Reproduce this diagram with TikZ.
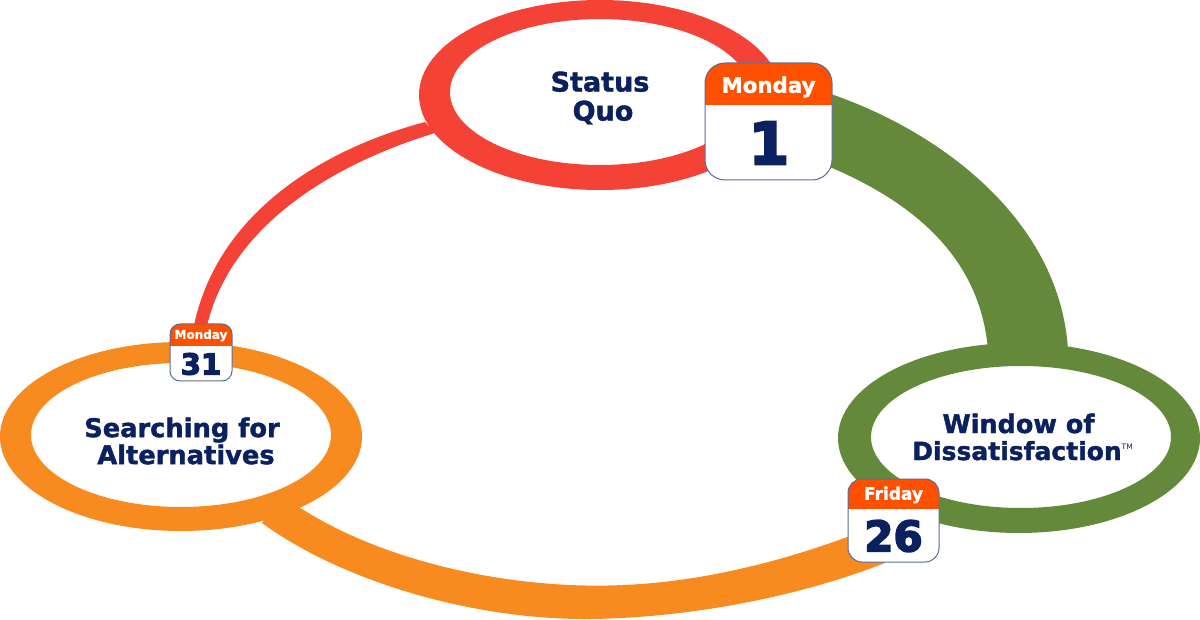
\documentclass[tikz,border=0pt]{standalone}
\usepackage{fontspec}
\setmainfont{DejaVu Sans}
\newfontfamily\heavyfont[BoldFeatures={FakeBold=4}]{DejaVu Sans}
\newfontfamily\labelfont[BoldFeatures={FakeBold=1.5}]{DejaVu Sans}
\definecolor{redring}{HTML}{F44336}
\definecolor{greenring}{HTML}{64893A}
\definecolor{orangering}{HTML}{F88B20}
\definecolor{calhead}{HTML}{FF5000}
\definecolor{navy}{HTML}{0B215F}
\definecolor{calline}{HTML}{5A6A9A}
\tikzset{
  phase/.style={align=center,text=navy,inner sep=0pt},
  calday/.style={text=white,inner sep=0pt},
  calnum/.style={text=navy,inner sep=0pt},
}
% #1 left, #2 top, #3 right, #4 bottom, #5 header bottom, #6 radius
\newcommand{\calbox}[6]{%
  \fill[white,rounded corners=#6pt] (#1,#2) rectangle (#3,#4);
  \begin{scope}
    \clip[rounded corners=#6pt] (#1,#2) rectangle (#3,#4);
    \fill[calhead] (#1,#2) rectangle (#3,#5);
  \end{scope}
  \draw[calline,line width=1pt,rounded corners=#6pt] (#1,#2) rectangle (#3,#4);
}
\begin{document}
\begin{tikzpicture}[x=1pt,y=-1pt]
\useasboundingbox (0,0) rectangle (1200,620);
\fill[white] (0,0) rectangle (1200,620);
% connectors
\fill[redring] (425,122) .. controls (320,150) and (215,215) .. (193,330) -- (206,330) .. controls (228,228) and (330,165) .. (435,133) -- cycle;
\fill[greenring] (825,92) .. controls (940,130) and (1060,220) .. (1068,350) -- (988,350) .. controls (980,255) and (910,200) .. (825,165) -- cycle;
\fill[orangering] (262,523) .. controls (340,580) and (470,620) .. (590,619) .. controls (680,618) and (790,600) .. (885,563) -- (850,536) .. controls (780,562) and (700,582) .. (623,585) .. controls (520,590) and (390,565) .. (302,509) -- (280,500) -- cycle;
% rings
\fill[redring,even odd rule] (600,95) ellipse [x radius=181,y radius=95] (600,92) ellipse [x radius=150,y radius=73];
\fill[greenring,even odd rule] (1019,438) ellipse [x radius=181,y radius=95] (1021,437) ellipse [x radius=150,y radius=71];
\fill[orangering,even odd rule] (181,436.5) ellipse [x radius=181,y radius=94.5] (181,435) ellipse [x radius=150,y radius=72];
% labels
\node[phase,font=\labelfont\bfseries\fontsize{27}{29}\selectfont] (status) at (600,98) {Status\\\hspace*{6pt}Quo};
\node[phase,font=\labelfont\bfseries\fontsize{25.5}{27}\selectfont] (window) at (1017,437) {\hspace*{3pt}Window of\\\fontsize{25}{27}\selectfont Dissatisfaction\rlap{\raisebox{11pt}{\mdseries\fontsize{7.5}{7.5}\selectfont TM}}};
\node[phase,font=\labelfont\bfseries\fontsize{25.7}{27}\selectfont] (search) at (182,441) {Searching for\\\hspace*{8pt}Alternatives};
% calendars
\calbox{705}{63}{832}{180}{105}{20}
\node[calday,font=\labelfont\bfseries\fontsize{21.3}{22}\selectfont] (d1) at (768.5,87) {Monday};
\node[calnum,font=\heavyfont\bfseries\fontsize{58}{58}\selectfont] (n1) at (769,143) {1};
\calbox{848}{479}{939}{562}{509}{14}
\node[calday,font=\labelfont\bfseries\fontsize{17}{18}\selectfont] (d2) at (893.5,495) {Friday};
\node[calnum,font=\heavyfont\bfseries\fontsize{42}{43}\selectfont] (n2) at (893.5,536) {26};
\calbox{170}{324}{232}{381}{346}{10}
\node[calday,font=\labelfont\bfseries\fontsize{12}{13}\selectfont] (d3) at (201,335.5) {Monday};
\node[calnum,font=\heavyfont\bfseries\fontsize{29}{29}\selectfont] (n3) at (201,364) {31};
\end{tikzpicture}
\end{document}
